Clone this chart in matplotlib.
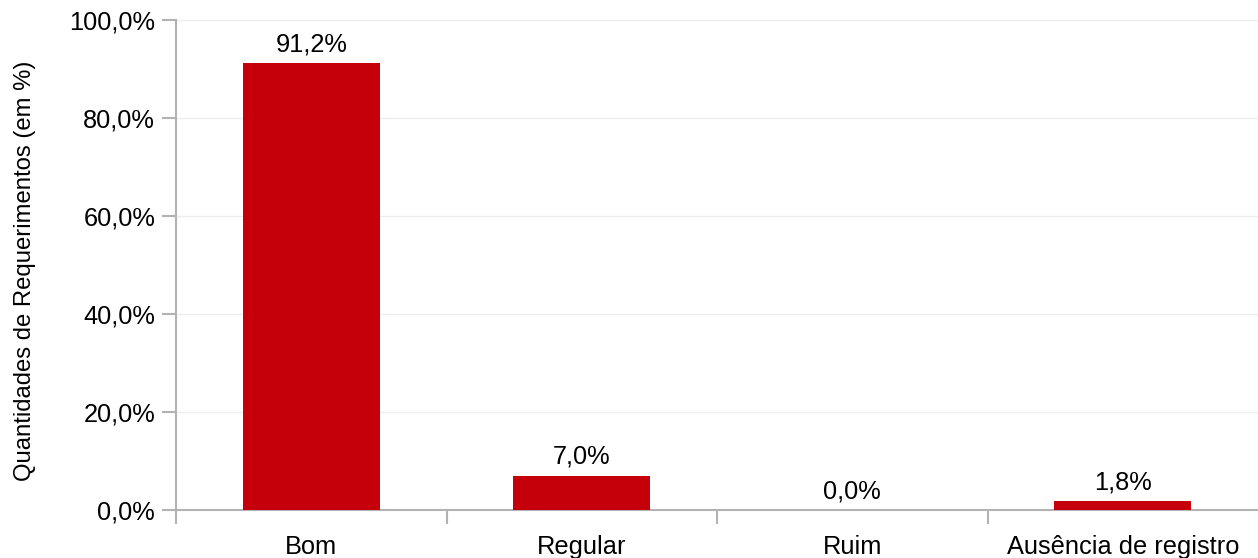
import matplotlib
matplotlib.use("Agg")
import matplotlib.pyplot as plt
from matplotlib.ticker import FixedLocator, FuncFormatter

categories = ["Bom", "Regular", "Ruim", "Ausência de registro"]
values = [91.2, 7.0, 0.0, 1.8]
y_ticks = [0, 20, 40, 60, 80, 100]
y_label = "Quantidades de Requerimentos (em %)"

plt.rcParams['font.family'] = ['Liberation Sans', 'DejaVu Sans']

fig = plt.figure(figsize=(12.58, 5.58), dpi=100)
ax = fig.add_axes([176/1258, 1-510/558, 1-176/1258, (510-20)/558])

x = list(range(len(categories)))
bars = ax.bar(x, values, width=0.505, color="#C5000B", zorder=3)

for xi, v in zip(x, values):
    ax.annotate(f"{v:.1f}%".replace(".", ","), (xi, v), xytext=(0, 5),
                textcoords="offset points", ha="center", va="bottom",
                fontsize=18.3, color="black")

ax.set_xlim(-0.5, len(categories) - 0.5)
ax.set_ylim(0, 100)
ax.yaxis.set_major_locator(FixedLocator(y_ticks))
ax.yaxis.set_major_formatter(FuncFormatter(lambda v, p: f"{v:.1f}%".replace(".", ",")))
ax.set_xticks(x)
ax.set_xticklabels(categories)
ax.xaxis.set_minor_locator(FixedLocator([i - 0.5 for i in range(len(categories))]))

ax.tick_params(axis="x", which="major", length=0, pad=18, labelsize=18.3)
ax.tick_params(axis="x", which="minor", length=10, width=1.5, color="#b3b3b3", direction="out")
ax.tick_params(axis="y", which="major", length=10, width=1.5, color="#b3b3b3", pad=5, labelsize=18.3)

ax.grid(axis="y", color="#eeeeee", linewidth=1, zorder=0)
for s in ["top", "right"]:
    ax.spines[s].set_visible(False)
for s in ["left", "bottom"]:
    ax.spines[s].set_color("#b3b3b3")
    ax.spines[s].set_linewidth(1.5)

ax.set_ylabel(y_label, fontsize=17.2, va="center")
ax.yaxis.set_label_coords(-0.1396, 0.488)

fig.savefig("out.png", dpi=100)
